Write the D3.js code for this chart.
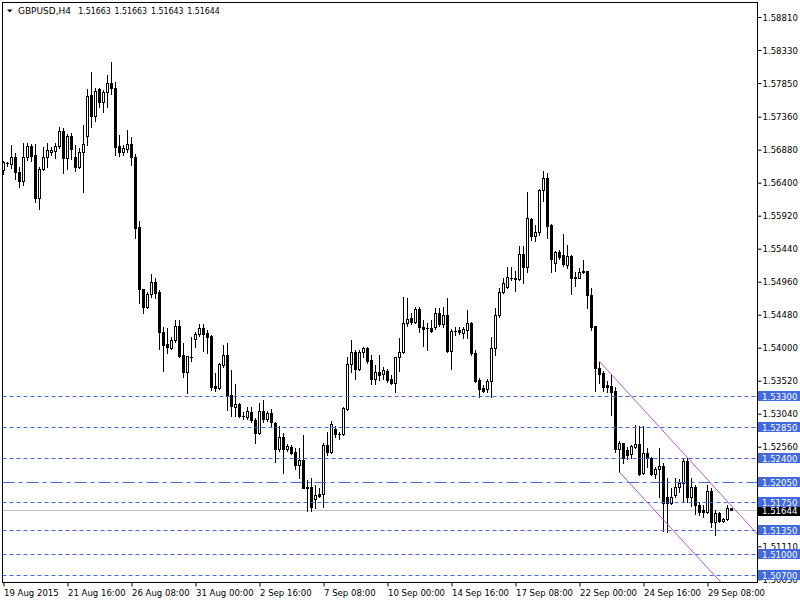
<!DOCTYPE html>
<html><head><meta charset="utf-8">
<script src="https://cdn.jsdelivr.net/npm/d3@7"></script>
<style>
html,body{margin:0;padding:0;background:#fff;}
svg{display:block;}
text{font-family:"DejaVu Sans Condensed","Liberation Sans",Arial,sans-serif;font-size:9.5px;}
</style>
</head><body>
<svg id="c" width="800" height="600"></svg>
<script>
const symbol = "GBPUSD,H4";
const opens = [
1.5659,1.5668,1.5667,1.5677,1.5656,1.5642,1.5677,1.5693,1.5680,1.5618,
1.5660,1.5677,1.5685,1.5686,1.5693,1.5715,1.5676,1.5708,1.5677,1.5663,
1.5685,1.5708,1.5768,1.5737,1.5776,1.5757,1.5772,1.5785,1.5778,1.5693,
1.5685,1.5689,1.5696,1.5677,1.5576,1.5485,1.5459,1.5478,1.5496,1.5481,
1.5423,1.5405,1.5400,1.5411,1.5432,1.5389,1.5365,1.5387,1.5413,1.5420,
1.5429,1.5421,1.5417,1.5344,1.5342,1.5375,1.5389,1.5331,1.5314,1.5318,
1.5301,1.5299,1.5306,1.5295,1.5276,1.5308,1.5296,1.5305,1.5291,1.5253,
1.5270,1.5253,1.5256,1.5248,1.5229,1.5237,1.5197,1.5197,1.5180,1.5187,
1.5187,1.5259,1.5248,1.5282,1.5275,1.5274,1.5311,1.5376,1.5394,1.5369,
1.5394,1.5400,1.5382,1.5355,1.5365,1.5362,1.5366,1.5355,1.5349,1.5387,
1.5394,1.5436,1.5443,1.5438,1.5456,1.5430,1.5429,1.5429,1.5430,1.5450,
1.5435,1.5447,1.5395,1.5424,1.5426,1.5421,1.5426,1.5436,1.5392,1.5353,
1.5342,1.5340,1.5352,1.5400,1.5447,1.5481,1.5488,1.5502,1.5502,1.5500,
1.5536,1.5517,1.5587,1.5562,1.5568,1.5629,1.5647,1.5578,1.5523,1.5539,
1.5535,1.5520,1.5534,1.5503,1.5502,1.5511,1.5511,1.5477,1.5431,1.5370,
1.5363,1.5346,1.5344,1.5337,1.5253,1.5261,1.5251,1.5245,1.5256,1.5260,
1.5218,1.5247,1.5240,1.5216,1.5224,1.5228,1.5183,1.5174,1.5186,1.5197,
1.5203,1.5235,1.5183,1.5197,1.5171,1.5164,1.5161,1.5192,1.5146,1.5160,
1.5148,1.5151,1.51663];
const highs = [
1.5672,1.5670,1.5695,1.5683,1.5663,1.5698,1.5698,1.5696,1.5696,1.5663,
1.5692,1.5698,1.5692,1.5698,1.5721,1.5720,1.5711,1.5712,1.5695,1.5690,
1.5724,1.5776,1.5801,1.5778,1.5778,1.5775,1.5797,1.5816,1.5787,1.5709,
1.5695,1.5717,1.5706,1.5682,1.5584,1.5486,1.5481,1.5507,1.5501,1.5484,
1.5430,1.5429,1.5415,1.5440,1.5440,1.5407,1.5388,1.5415,1.5423,1.5435,
1.5435,1.5426,1.5418,1.5363,1.5378,1.5404,1.5407,1.5368,1.5347,1.5320,
1.5306,1.5314,1.5314,1.5298,1.5320,1.5324,1.5308,1.5311,1.5292,1.5286,
1.5276,1.5260,1.5259,1.5254,1.5254,1.5273,1.5208,1.5211,1.5200,1.5196,
1.5261,1.5278,1.5293,1.5286,1.5278,1.5314,1.5387,1.5411,1.5397,1.5397,
1.5401,1.5401,1.5389,1.5375,1.5389,1.5372,1.5369,1.5360,1.5387,1.5414,
1.5474,1.5472,1.5450,1.5459,1.5459,1.5440,1.5436,1.5440,1.5458,1.5458,
1.5459,1.5472,1.5427,1.5430,1.5430,1.5430,1.5455,1.5438,1.5397,1.5356,
1.5346,1.5355,1.5415,1.5458,1.5487,1.5501,1.5517,1.5517,1.5512,1.5548,
1.5548,1.5627,1.5589,1.5578,1.5631,1.5657,1.5654,1.5580,1.5541,1.5542,
1.5565,1.5549,1.5535,1.5510,1.5516,1.5528,1.5512,1.5487,1.5432,1.5379,
1.5366,1.5352,1.5360,1.5343,1.5264,1.5262,1.5256,1.5259,1.5287,1.5286,
1.5286,1.5254,1.5241,1.5227,1.5254,1.5232,1.5211,1.5196,1.5211,1.5209,
1.5240,1.5240,1.5211,1.5200,1.5176,1.5171,1.5200,1.5196,1.5164,1.5161,
1.5152,1.5171,1.51663];
const lows = [
1.5653,1.5664,1.5661,1.5645,1.5634,1.5637,1.5673,1.5672,1.5612,1.5602,
1.5658,1.5663,1.5680,1.5676,1.5690,1.5654,1.5660,1.5675,1.5657,1.5661,
1.5626,1.5695,1.5721,1.5730,1.5750,1.5743,1.5750,1.5769,1.5680,1.5679,
1.5680,1.5685,1.5666,1.5560,1.5465,1.5450,1.5458,1.5474,1.5472,1.5398,
1.5366,1.5392,1.5398,1.5408,1.5387,1.5357,1.5334,1.5381,1.5401,1.5417,
1.5395,1.5392,1.5338,1.5337,1.5340,1.5372,1.5309,1.5301,1.5300,1.5299,
1.5296,1.5296,1.5292,1.5261,1.5275,1.5292,1.5293,1.5286,1.5234,1.5250,
1.5218,1.5250,1.5245,1.5224,1.5211,1.5196,1.5162,1.5162,1.5167,1.5183,
1.5168,1.5244,1.5247,1.5270,1.5267,1.5273,1.5310,1.5365,1.5355,1.5368,
1.5387,1.5378,1.5347,1.5347,1.5353,1.5355,1.5350,1.5347,1.5336,1.5366,
1.5392,1.5432,1.5435,1.5436,1.5423,1.5402,1.5397,1.5423,1.5427,1.5432,
1.5430,1.5394,1.5369,1.5418,1.5420,1.5414,1.5414,1.5389,1.5350,1.5329,
1.5336,1.5336,1.5329,1.5389,1.5445,1.5480,1.5487,1.5499,1.5483,1.5499,
1.5494,1.5510,1.5557,1.5555,1.5564,1.5613,1.5560,1.5510,1.5512,1.5529,
1.5519,1.5516,1.5478,1.5490,1.5501,1.5509,1.5458,1.5426,1.5337,1.5349,
1.5337,1.5336,1.5302,1.5248,1.5219,1.5232,1.5238,1.5240,1.5254,1.5215,
1.5216,1.5227,1.5215,1.5211,1.5183,1.5133,1.5132,1.5173,1.5183,1.5190,
1.5176,1.5176,1.5170,1.5158,1.5157,1.5154,1.5160,1.5139,1.5127,1.5146,
1.5146,1.5149,1.51643];
const closes = [
1.5670,1.5669,1.5677,1.5656,1.5642,1.5677,1.5693,1.5679,1.5618,1.5660,
1.5677,1.5688,1.5688,1.5693,1.5715,1.5676,1.5708,1.5689,1.5663,1.5685,
1.5696,1.5766,1.5737,1.5773,1.5757,1.5772,1.5785,1.5778,1.5692,1.5685,
1.5690,1.5696,1.5677,1.5574,1.5485,1.5459,1.5478,1.5496,1.5480,1.5423,
1.5404,1.5401,1.5411,1.5432,1.5388,1.5365,1.5388,1.5386,1.5420,1.5429,
1.5420,1.5415,1.5343,1.5342,1.5376,1.5389,1.5330,1.5315,1.5318,1.5301,
1.5300,1.5308,1.5295,1.5276,1.5308,1.5296,1.5305,1.5292,1.5253,1.5270,
1.5253,1.5257,1.5247,1.5229,1.5237,1.5196,1.5196,1.5168,1.5186,1.5184,
1.5259,1.5248,1.5289,1.5275,1.5274,1.5312,1.5376,1.5394,1.5369,1.5394,
1.5400,1.5381,1.5355,1.5365,1.5360,1.5368,1.5353,1.5349,1.5387,1.5394,
1.5436,1.5442,1.5438,1.5456,1.5430,1.5427,1.5428,1.5424,1.5450,1.5435,
1.5447,1.5395,1.5424,1.5424,1.5423,1.5427,1.5436,1.5392,1.5352,1.5340,
1.5337,1.5352,1.5400,1.5447,1.5481,1.5494,1.5503,1.5501,1.5500,1.5536,
1.5517,1.5589,1.5562,1.5568,1.5629,1.5647,1.5577,1.5529,1.5539,1.5532,
1.5522,1.5534,1.5502,1.5502,1.5510,1.5510,1.5477,1.5430,1.5370,1.5362,
1.5343,1.5343,1.5336,1.5253,1.5261,1.5240,1.5244,1.5257,1.5260,1.5216,
1.5247,1.5240,1.5216,1.5224,1.5228,1.5174,1.5174,1.5183,1.5197,1.5203,
1.5235,1.5183,1.5197,1.5171,1.5161,1.5161,1.5192,1.5146,1.5160,1.5148,
1.5151,1.5167,1.51644];

const priceTicks = [1.58810,1.58330,1.57850,1.57360,1.56880,1.56400,1.55920,1.55440,1.54960,1.54480,1.54000,1.53520,1.53040,1.52560,1.52080,1.51600,1.51110,1.50630];
const timeTickBars = [0,16,32,48,64,80,96,112,128,144,160,176];
const timeLabels = ["19 Aug 2015","21 Aug 16:00","26 Aug 08:00","31 Aug 00:00","2 Sep 16:00","7 Sep 08:00","10 Sep 00:00","14 Sep 16:00","17 Sep 08:00","22 Sep 00:00","24 Sep 16:00","29 Sep 08:00"];
const levels = [1.53300,1.52850,1.52400,1.52050,1.51750,1.51350,1.51000,1.50700];
const levelStyles = ["dash","dash","dash","dashdot","dash","dash","dash","dash"];
const channelUpper = [[149,1.5380],[182,1.5170]];
const channelLower = [[154,1.5219],[182,1.5042]];
const priceRange = [1.50592,1.59028];

const svg = d3.select("#c");
const L = 2.5, R = 757.5, T = 2.5, B = 582.5;
const x = d3.scaleLinear().domain([0,1]).range([3.5,7.5]);
const y = d3.scaleLinear().domain(priceRange).range([582,2]);
const BLUE = "#4169E1";
const fmt = d3.format(".5f");

svg.append("defs").append("clipPath").attr("id","plot")
  .append("rect").attr("x",3).attr("y",3).attr("width",754).attr("height",579);

const plot = svg.append("g").attr("clip-path","url(#plot)");

// bid line
const bid = closes[closes.length-1];
const by = Math.round(y(bid)) + 0.5;
plot.append("line").attr("x1",L).attr("x2",R).attr("y1",by).attr("y2",by)
  .attr("stroke","#C0C0C0").attr("stroke-width",1);

// candles
const idx = d3.range(opens.length);
const cg = plot.append("g");
idx.forEach(i => {
  const cx = x(i);
  const yH = Math.round(y(highs[i])), yL = Math.round(y(lows[i]));
  const yO = Math.round(y(opens[i])), yC = Math.round(y(closes[i]));
  const top = Math.min(yO,yC), bot = Math.max(yO,yC);
  cg.append("line").attr("x1",cx).attr("x2",cx).attr("y1",yH).attr("y2",yL+1)
    .attr("stroke","#000").attr("stroke-width",1);
  if (bot - top < 1) {
    cg.append("line").attr("x1",cx-1.5).attr("x2",cx+1.5).attr("y1",top+0.5).attr("y2",top+0.5)
      .attr("stroke","#000").attr("stroke-width",1);
  } else if (closes[i] >= opens[i]) {
    cg.append("rect").attr("x",cx-1).attr("y",top+0.5).attr("width",2).attr("height",bot-top)
      .attr("fill","#fff").attr("stroke","#000").attr("stroke-width",1);
  } else {
    cg.append("rect").attr("x",cx-1.5).attr("y",top).attr("width",3).attr("height",bot-top+1)
      .attr("fill","#000");
  }
});

// horizontal levels
levels.forEach((lv,k) => {
  const ly = Math.round(y(lv)) + 0.5;
  plot.append("line").attr("x1",L).attr("x2",R).attr("y1",ly).attr("y2",ly)
    .attr("stroke",BLUE).attr("stroke-width",1)
    .attr("stroke-dasharray", levelStyles[k]==="dashdot" ? "12,4,4,4" : "4,3");
});

// channel lines (rays to the right)
function ray(pts){
  const [a,b] = pts;
  const slope = (b[1]-a[1])/(b[0]-a[0]);
  const endBar = 200;
  plot.append("line")
    .attr("x1",x(a[0])).attr("y1",y(a[1]))
    .attr("x2",x(endBar)).attr("y2",y(a[1]+slope*(endBar-a[0])))
    .attr("stroke","#BA55D3").attr("stroke-width",1);
}
ray(channelUpper);
ray(channelLower);

// frame
svg.append("rect").attr("x",L).attr("y",T).attr("width",R-L).attr("height",B-T)
  .attr("fill","none").attr("stroke","#000").attr("stroke-width",1);

// right price axis (labels fully hidden under a level box are not drawn)
const covered = v => levels.some(lv => Math.abs(y(lv) - y(v)) < 2.5);
const ya = svg.append("g").attr("transform",`translate(${R},0)`)
  .call(d3.axisRight(y).tickValues(priceTicks).tickSize(4).tickPadding(1)
        .tickFormat(d => covered(d) ? "" : fmt(d)));
ya.select(".domain").remove();
ya.selectAll(".tick line").attr("stroke","#000");
ya.selectAll(".tick text").attr("fill","#000").attr("font-family",null).attr("font-size",null);

// bottom time axis
const xa = svg.append("g").attr("transform",`translate(0,${B})`)
  .call(d3.axisBottom(x).tickValues(timeTickBars).tickSize(4).tickPadding(3)
        .tickFormat((d,i) => timeLabels[i]));
xa.select(".domain").remove();
xa.selectAll(".tick line").attr("stroke","#000");
xa.selectAll(".tick text").attr("fill","#000").attr("text-anchor","start").attr("x",0)
  .attr("font-family",null).attr("font-size",null);

// bid label (black)
svg.append("rect").attr("x",758).attr("y",Math.round(y(bid))-5).attr("width",42).attr("height",11)
  .attr("fill","#000");
svg.append("text").attr("x",762).attr("y",Math.round(y(bid))+4).attr("fill","#fff").text(fmt(bid));

// level labels (blue boxes)
levels.forEach(lv => {
  const ly = Math.round(y(lv));
  svg.append("rect").attr("x",758).attr("y",ly-5).attr("width",42).attr("height",10).attr("fill",BLUE);
  svg.append("text").attr("x",762).attr("y",ly+3.5).attr("fill","#fff").text(fmt(lv));
});

// title
const n = opens.length - 1;
svg.append("path").attr("d","M7,9.5L12.5,9.5L9.75,12.5Z").attr("fill","#000");
svg.append("text").attr("x",18).attr("y",14).attr("fill","#000")
  .attr("textLength",53).attr("lengthAdjust","spacingAndGlyphs").text(symbol);
[opens[n],highs[n],lows[n],closes[n]].forEach((v,k) => {
  svg.append("text").attr("x",78.3 + k*36.3).attr("y",14).attr("fill","#000")
    .attr("textLength",32.5).attr("lengthAdjust","spacingAndGlyphs").text(fmt(v));
});
</script>
</body></html>
